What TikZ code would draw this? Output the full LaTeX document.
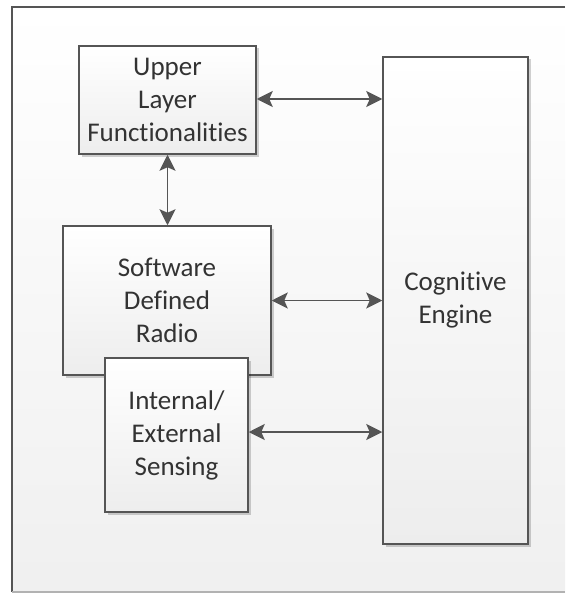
\documentclass[tikz,border=0pt]{standalone}
\usepackage{fontspec}
\setmainfont{Carlito}[Ligatures={NoCommon}]
\usetikzlibrary{arrows.meta,shadows}
\definecolor{edge}{HTML}{555555}
\definecolor{ink}{HTML}{333333}
\tikzset{
  block/.style={draw=edge, line width=1.5pt, top color=white, bottom color=black!7,
    drop shadow={shadow xshift=2.5pt, shadow yshift=-2.5pt, opacity=0.18, fill=black},
    text=ink, align=center, inner sep=0pt,
    font=\fontsize{27}{33}\selectfont},
  link/.style={draw=edge, line width=1.6pt, {Stealth[length=16pt,width=16pt,inset=3.5pt]}-{Stealth[length=16pt,width=16pt,inset=3.5pt]}}
}
\begin{document}
\begin{tikzpicture}[x=1pt,y=-1pt]
  \useasboundingbox (0,0) rectangle (565,594);
  % outer frame with a soft vertical gradient
  \shade[top color=white, bottom color=black!6] (12,7) rectangle (565,592);
  \draw[edge, line width=1.3pt] (565,7) -- (12,7) -- (12,592);
  \draw[black!30, line width=1.3pt] (12,592) -- (565,592);
  % blocks
  \node[block, minimum width=177pt, minimum height=108pt] (ulf) at (167.5,100)
    {Upper\\Layer\\Functionalities};
  \node[block, minimum width=145pt, minimum height=487pt] (ce) at (455.5,300.5)
    {Cognitive\\Engine};
  \node[block, minimum width=208pt, minimum height=149pt] (sdr) at (167,300.5)
    {Software\\Defined\\Radio};
  \node[block, minimum width=143pt, minimum height=154pt] (sense) at (176.5,435)
    {Internal/\\External\\Sensing};
  % connectors
  \draw[link] ([yshift=1pt]ulf.east) -- ([yshift=1pt]ulf.east -| ce.west);
  \draw[link] (ulf.south) -- (ulf.south |- sdr.north);
  \draw[link] (sdr.east) -- (sdr.east -| ce.west);
  \draw[link] ([yshift=3pt]sense.east) -- ([yshift=3pt]sense.east -| ce.west);
\end{tikzpicture}
\end{document}
